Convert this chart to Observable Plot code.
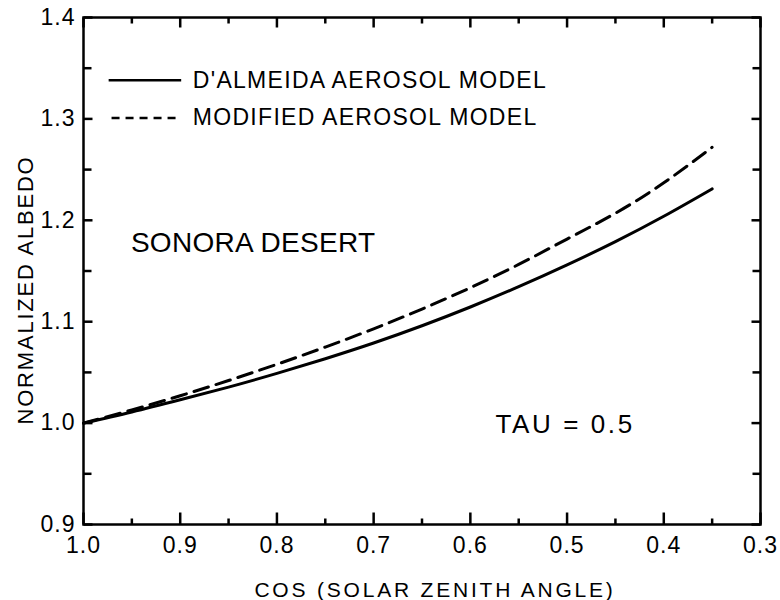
<!DOCTYPE html>
<html>
<head>
<meta charset="utf-8">
<script src="https://cdn.jsdelivr.net/npm/d3@7"></script>
<script src="https://cdn.jsdelivr.net/npm/@observablehq/plot@0.6"></script>
<style>
  html, body { margin: 0; padding: 0; background: #fff; }
  #chart svg { display: block; }
</style>
</head>
<body>
<div id="chart"></div>
<script>
// ---- data ----
const cosZenith = [1.00, 0.95, 0.90, 0.85, 0.80, 0.75, 0.70, 0.65, 0.60, 0.55, 0.50, 0.45, 0.40, 0.35];
const albedoDAlmeida = [1.000, 1.011, 1.023, 1.0355, 1.049, 1.0635, 1.079, 1.096, 1.1145, 1.1345, 1.156, 1.179, 1.204, 1.231];
const albedoModified = [1.000, 1.013, 1.027, 1.042, 1.058, 1.075, 1.093, 1.1125, 1.1335, 1.1565, 1.1815, 1.207, 1.237, 1.272];
const seriesNames = ["D'ALMEIDA AEROSOL MODEL", "MODIFIED AEROSOL MODEL"];
const xTicks = [1.0, 0.9, 0.8, 0.7, 0.6, 0.5, 0.4, 0.3];
const xMinorTicks = [0.95, 0.85, 0.75, 0.65, 0.55, 0.45, 0.35];
const yTicks = [0.9, 1.0, 1.1, 1.2, 1.3, 1.4];
const yMinorTicks = [0.95, 1.05, 1.15, 1.25, 1.35];
const xTitle = "COS (SOLAR ZENITH ANGLE)";
const yTitle = "NORMALIZED ALBEDO";
const siteLabel = "SONORA DESERT";
const tauLabel = "TAU = 0.5";

// ---- build tables ----
const rowsA = cosZenith.map((c, i) => ({c, v: albedoDAlmeida[i]}));
const rowsB = cosZenith.map((c, i) => ({c, v: albedoModified[i]}));

const W = 780, H = 600;
const mL = 83, mR = 20, mT = 17, mB = 76;
const frameH = H - mT - mB, frameW = W - mL - mR;
const xDom = [1.0, 0.3], yDom = [0.9, 1.4];
const fmt = d3.format(".1f");
const tk = {stroke: "#000", strokeWidth: 2.5};
// tick lengths (px) converted to scale units so the marks go through the scales
const ypx = (yDom[1] - yDom[0]) / frameH;
const xpx = (xDom[0] - xDom[1]) / frameW;
const tickBottom = (data, len) => Plot.link(data, {x1: d => d, x2: d => d, y1: yDom[0], y2: yDom[0] + len * ypx, ...tk});
const tickTop = (data, len) => Plot.link(data, {x1: d => d, x2: d => d, y1: yDom[1], y2: yDom[1] - len * ypx, ...tk});
const tickLeft = (data, len) => Plot.link(data, {y1: d => d, y2: d => d, x1: xDom[0], x2: xDom[0] - len * xpx, ...tk});
const tickRight = (data, len) => Plot.link(data, {y1: d => d, y2: d => d, x1: xDom[1], x2: xDom[1] + len * xpx, ...tk});

const chart = Plot.plot({
  width: W,
  height: H,
  marginLeft: mL,
  marginRight: mR,
  marginTop: mT,
  marginBottom: mB,
  style: {fontFamily: "'Liberation Sans', Arial, sans-serif", color: "#000", background: "#fff"},
  x: {domain: xDom, axis: null},
  y: {domain: yDom, axis: null},
  marks: [
    Plot.frame({stroke: "#000", strokeWidth: 2.5, fill: "none"}),
    // curves
    Plot.line(rowsA, {x: "c", y: "v", curve: "natural", stroke: "#000", strokeWidth: 3}),
    Plot.line(rowsB, {x: "c", y: "v", curve: "natural", stroke: "#000", strokeWidth: 3, strokeDasharray: "15,8"}),
    // inward tick marks on all sides (drawn after the frame)
    tickBottom(xTicks, 12),
    tickBottom(xMinorTicks, 6),
    tickTop(xTicks, 10),
    tickTop(xMinorTicks, 6),
    tickLeft(yTicks, 9),
    tickLeft(yMinorTicks, 8),
    tickRight(yTicks, 9),
    tickRight(yMinorTicks, 8),
    // legend
    Plot.link([seriesNames[0]], {x1: 0.974, x2: 0.899, y1: 1.338, y2: 1.338, stroke: "#000", strokeWidth: 2.5}),
    Plot.link([seriesNames[1]], {x1: 0.971, x2: 0.899, y1: 1.301, y2: 1.301, stroke: "#000", strokeWidth: 2.5, strokeDasharray: "8,6"}),
    Plot.text(seriesNames, {x: 0.887, y: (d, i) => i === 0 ? 1.338 : 1.301, text: d => d, textAnchor: "start", fontSize: 23, fill: "#000", ariaDescription: "legendtext"}),
    // annotations
    Plot.text([siteLabel], {x: 0.951, y: 1.178, text: d => d, textAnchor: "start", fontSize: 28, fill: "#000", ariaDescription: "site"}),
    Plot.text([tauLabel], {x: 0.574, y: 0.998, text: d => d, textAnchor: "start", fontSize: 26, fill: "#000", ariaDescription: "tau"}),
    // tick labels
    Plot.text(xTicks, {x: d => d, frameAnchor: "bottom", lineAnchor: "top", dy: 12, text: d => fmt(d), fontSize: 23, fill: "#000", ariaDescription: "xticklabels"}),
    Plot.text(yTicks, {y: d => d, frameAnchor: "left", textAnchor: "end", dx: -8, text: d => fmt(d), fontSize: 23, fill: "#000", ariaDescription: "yticklabels"}),
    // axis titles
    Plot.text([xTitle], {frameAnchor: "bottom", dx: 13, dy: 72, text: d => d, fontSize: 21, fill: "#000", ariaDescription: "xtitle"}),
    Plot.text([yTitle], {frameAnchor: "left", textAnchor: "middle", dx: -58, dy: 19, rotate: -90, text: d => d, fontSize: 22, fill: "#000", ariaDescription: "ytitle"})
  ]
});

const svg = d3.select(chart);
const spacing = {xticklabels: "1px", yticklabels: "1px", legendtext: "1.3px", site: "0.3px", tau: "2.6px", xtitle: "2.8px", ytitle: "1.8px"};
for (const [k, v] of Object.entries(spacing)) {
  svg.selectAll(`g[aria-description="${k}"] text`).style("letter-spacing", v);
}
document.getElementById("chart").appendChild(chart);
</script>
</body>
</html>
